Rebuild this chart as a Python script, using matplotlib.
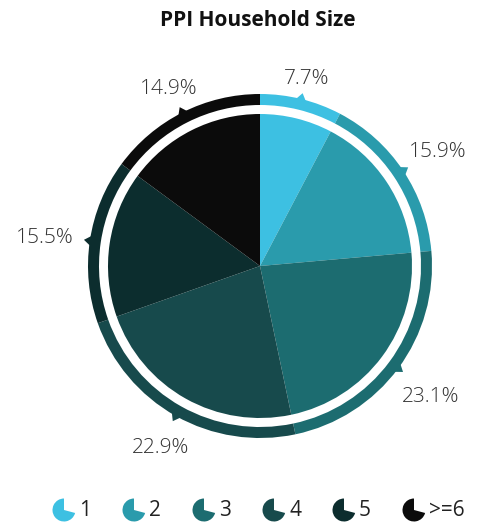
import numpy as np
from matplotlib import pyplot as plt
from matplotlib.patches import Wedge, Polygon

title = 'PPI Household Size'
categories = ['1', '2', '3', '4', '5', '>=6']
shares = [7.7, 15.9, 23.1, 22.9, 15.5, 14.9]
colors = ['#3dc0e2', '#2a9bac', '#1c6c70', '#174a4c', '#0c2d2e', '#0b0b0b']

plt.rcParams['font.family'] = ['Open Sans', 'DejaVu Sans']

W, H = 487, 523
fig = plt.figure(figsize=(W / 100, H / 100), dpi=100)
ax = fig.add_axes([0, 0, 1, 1])

cx, cy = 260, H - 266
r_pie = 152
r_ring = 172
ring_w = 11

# inner pie
ax.pie(shares, colors=colors, startangle=90, counterclock=False,
       radius=r_pie, center=(cx, cy), frame=True,
       wedgeprops=dict(linewidth=0))
# outer ring
ax.pie(shares, colors=colors, startangle=90, counterclock=False,
       radius=r_ring, center=(cx, cy), frame=True,
       wedgeprops=dict(width=ring_w, linewidth=0))
ax.set_xlim(0, W)
ax.set_ylim(0, H)
ax.set_aspect('equal')
ax.axis('off')

# pointer triangles + labels at the middle of each slice
cum = np.cumsum([0] + shares)
for i, s in enumerate(shares):
    mid = (cum[i] + s / 2) / 100 * 2 * np.pi
    ang = np.pi / 2 - mid
    u = np.array([np.cos(ang), np.sin(ang)])
    t = np.array([-u[1], u[0]])
    base = np.array([cx, cy]) + u * (r_ring - 1)
    tip = np.array([cx, cy]) + u * (r_ring + 6)
    ax.add_patch(Polygon([base + t * 5, base - t * 5, tip],
                         closed=True, color=colors[i], lw=0))
    lp = np.array([cx, cy]) + u * (r_ring + 18 + 28 * abs(u[0]))
    ax.text(lp[0], lp[1] - 4, f'{s}%', ha='center', va='center',
            fontsize=15, color='#333333', fontweight='light')

ax.text(258, H - 21, title, ha='center', va='center', fontsize=15,
        fontweight='bold', color='#111111')

# legend
for i, (lab, c) in enumerate(zip(categories, colors)):
    x = 64 + i * 70
    ax.add_patch(Wedge((x, H - 510), 11.5, 90, 345, color=c, lw=0))
    ax.text(x + 15, H - 510, lab, ha='left', va='center', fontsize=15,
            color='#222222')

fig.savefig('out.png', dpi=100)
